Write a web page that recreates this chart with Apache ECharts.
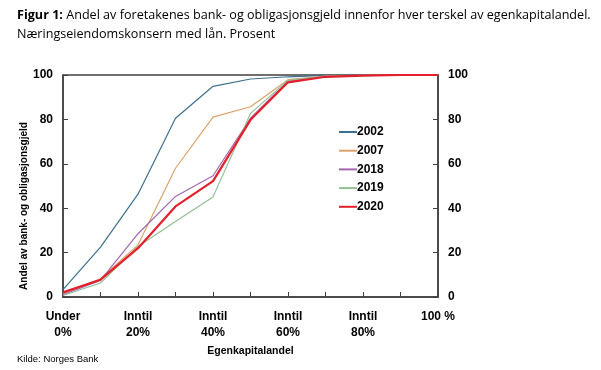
<!DOCTYPE html>
<html><head><meta charset="utf-8">
<script src="https://cdn.jsdelivr.net/npm/echarts@6/dist/echarts.min.js"></script>
<style>html,body{margin:0;padding:0;background:#fff}#c{width:601px;height:370px}</style>
</head><body><div id="c"></div>
<script>
const categories = ["Under\n0%", "", "Inntil\n20%", "", "Inntil\n40%", "", "Inntil\n60%", "", "Inntil\n80%", "", "100 %"];
const yTicks = [0, 20, 40, 60, 80, 100];
const s2002 = [3.3, 22.5, 46.3, 80.5, 94.9, 98.2, 99.2, 99.8, 100, 100, 100];
const s2007 = [1.5, 8.2, 23.5, 58, 81, 85.7, 97.9, 99.5, 99.8, 100, 100];
const s2018 = [1.0, 7.5, 28.5, 45.3, 54.6, 80.5, 97.3, 99.3, 99.8, 100, 100];
const s2019 = [0.7, 6.3, 22.8, 34, 45.1, 82.7, 97.6, 99.4, 99.8, 100, 100];
const s2020 = [2.1, 7.8, 22, 40.8, 52.2, 79.8, 96.7, 99.2, 99.7, 100, 100];
const seriesNames = ["2002", "2007", "2018", "2019", "2020"];

const chart = echarts.init(document.getElementById('c'), null, {renderer: 'canvas'});
const axisColor = '#404040';
const lab = {color: '#000', fontFamily: 'Liberation Sans', fontWeight: 'bold', fontSize: 12};
function mk(name, data, color, w) {
  return {name, type: 'line', data, symbol: 'none', yAxisIndex: 0,
    lineStyle: {color, width: w}, itemStyle: {color}, z: name === '2020' ? 5 : 2};
}
chart.setOption({
  animation: false,
  title: [{
    left: 12, top: 1,
    text: '{b|Figur 1:} Andel av foretakenes bank- og obligasjonsgjeld innenfor hver terskel av egenkapitalandel.\nNæringseiendomskonsern med lån. Prosent',
    textStyle: {fontFamily: 'Open Sans', fontSize: 12.6, fontWeight: 'normal', color: '#000', lineHeight: 19,
      rich: {b: {fontFamily: 'Open Sans', fontSize: 12.6, fontWeight: 'bold', color: '#000'}}}
  }, {
    left: 12, top: 349, text: 'Kilde: Norges Bank',
    textStyle: {fontFamily: 'Liberation Sans', fontSize: 9.5, fontWeight: 'normal', color: '#000'}
  }],
  graphic: [{
    type: 'text', x: 24, y: 206, rotation: Math.PI / 2,
    style: {text: 'Andel av bank- og obligasjonsgjeld', fill: '#000', font: 'bold 10px "Liberation Sans"',
      textAlign: 'center', textVerticalAlign: 'middle'}
  }],
  legend: {
    orient: 'vertical', left: 333, top: 121, itemGap: 6.7, itemWidth: 18, itemHeight: 12,
    data: seriesNames, itemStyle: {opacity: 0},
    textStyle: {color: '#000', fontFamily: 'Liberation Sans', fontWeight: 'bold', fontSize: 12, padding: [0, 0, 0, -5]}
  },
  grid: {left: 63, right: 163, top: 75, bottom: 73, show: true, borderColor: axisColor, borderWidth: 1.5},
  xAxis: {
    type: 'category', data: categories, boundaryGap: false,
    name: 'Egenkapitalandel', nameLocation: 'middle', nameGap: 45,
    nameTextStyle: {color: '#000', fontFamily: 'Liberation Sans', fontWeight: 'bold', fontSize: 10.5},
    axisLine: {lineStyle: {color: axisColor, width: 1.5}},
    axisTick: {inside: true, length: 5, interval: 0, lineStyle: {color: axisColor}},
    axisLabel: Object.assign({interval: 0, margin: 12, lineHeight: 16}, lab),
    splitLine: {show: false}
  },
  yAxis: [{
    type: 'value', min: 0, max: 100, interval: 20, position: 'left',
    axisLine: {show: true, lineStyle: {color: axisColor, width: 1.5}},
    axisTick: {show: true, inside: true, length: 5, lineStyle: {color: axisColor}},
    axisLabel: Object.assign({margin: 10, formatter: v => yTicks.includes(v) ? String(v) : ''}, lab),
    splitLine: {show: false}
  }, {
    type: 'value', min: 0, max: 100, interval: 20, position: 'right',
    axisLine: {show: true, lineStyle: {color: axisColor, width: 1.5}},
    axisTick: {show: true, inside: true, length: 5, lineStyle: {color: axisColor}},
    axisLabel: Object.assign({margin: 10, formatter: v => yTicks.includes(v) ? String(v) : ''}, lab),
    splitLine: {show: false}
  }],
  series: [
    mk('2002', s2002, '#3d6f8e', 1.2),
    mk('2007', s2007, '#dba269', 1.2),
    mk('2018', s2018, '#a067ad', 1.2),
    mk('2019', s2019, '#93bf95', 1.2),
    mk('2020', s2020, '#e3202b', 2.2)
  ]
});
</script></body></html>
